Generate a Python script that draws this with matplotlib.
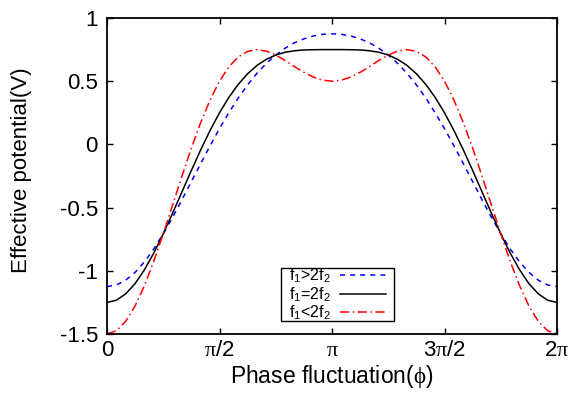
import numpy as np
import matplotlib
matplotlib.use("Agg")
import matplotlib.pyplot as plt
from matplotlib.patches import Rectangle

plt.rcParams['font.family'] = ['Liberation Sans', 'DejaVu Sans']
plt.rcParams['mathtext.fontset'] = 'custom'
plt.rcParams['mathtext.rm'] = 'Liberation Sans'
plt.rcParams['mathtext.it'] = 'Liberation Serif'

# Datos (0 .. pi, paso pi/24), la curva es simetrica en pi
blue_half = [-1.125, -1.112, -1.074, -1.012, -0.929, -0.826, -0.707, -0.576,
             -0.438, -0.294, -0.151, -0.010, 0.125, 0.251, 0.367, 0.471,
             0.563, 0.641, 0.707, 0.761, 0.804, 0.835, 0.858, 0.871, 0.875]
black_half = [-1.250, -1.233, -1.182, -1.101, -0.991, -0.858, -0.707, -0.544,
              -0.375, -0.206, -0.042, 0.111, 0.250, 0.372, 0.475, 0.559,
              0.625, 0.673, 0.707, 0.729, 0.741, 0.747, 0.749, 0.750, 0.750]
red_half = [-1.500, -1.474, -1.399, -1.277, -1.116, -0.923, -0.707, -0.479,
            -0.250, -0.029, 0.174, 0.352, 0.500, 0.614, 0.692, 0.736,
            0.750, 0.738, 0.707, 0.664, 0.616, 0.570, 0.533, 0.508, 0.500]

blue = blue_half + blue_half[-2::-1]
black = black_half + black_half[-2::-1]
red = red_half + red_half[-2::-1]
phi = np.linspace(0, 2 * np.pi, len(blue))

labels = [r'f$_\mathrm{1}$>2f$_\mathrm{2}$', r'f$_\mathrm{1}$=2f$_\mathrm{2}$',
          r'f$_\mathrm{1}$<2f$_\mathrm{2}$']
xticks = [0, np.pi / 2, np.pi, 3 * np.pi / 2, 2 * np.pi]
xticklabels = ['0', r'$\pi$/2', r'$\pi$', r'3$\pi$/2', r'2$\pi$']
yticks = [1, 0.5, 0, -0.5, -1, -1.5]
yticklabels = ['1', '0.5', '0', '-0.5', '-1', '-1.5']

# Figura
fig = plt.figure(figsize=(5.71, 4.03), dpi=100)
ax = fig.add_axes([107 / 571, 1 - 334 / 403, 450 / 571, 316 / 403])

ax.plot(phi, blue, color='blue', lw=1.1, dashes=(3.3, 3.3), label=labels[0])
ax.plot(phi, black, color='black', lw=1.1, label=labels[1])
ax.plot(phi, red, color='red', lw=1.1, dashes=(6, 2.3, 1, 2.3), label=labels[2])

ax.set_xlim(0, 2 * np.pi)
ax.set_ylim(-1.5, 1)
ax.set_xticks(xticks)
ax.set_xticklabels(xticklabels)
ax.set_yticks(yticks)
ax.set_yticklabels(yticklabels)
ax.tick_params(direction='in', length=4, width=1, top=True, right=True,
               labelsize=16)
ax.tick_params(axis='x', pad=4)
ax.tick_params(axis='y', pad=6.5)
for s in ax.spines.values():
    s.set_linewidth(1.3)

ax.set_xlabel(r'Phase fluctuation($\phi$)', fontsize=16.5, va='center')
ax.set_ylabel('Effective potential(V)', fontsize=16, va='center')
ax.xaxis.set_label_coords(0.5, -0.133)
ax.yaxis.set_label_coords(-0.189, 0.519)

# Leyenda (caja dibujada aparte)
box = Rectangle((0.387, 0.040), 0.251, 0.170, transform=ax.transAxes,
                fill=True, facecolor='white', edgecolor='black', lw=1.0, zorder=4)
ax.add_patch(box)
leg = ax.legend(loc='center', bbox_to_anchor=(0.5125, 0.125),
                markerfirst=False, fontsize=11.5, frameon=False,
                handlelength=2.9, handletextpad=0.55, borderpad=0,
                labelspacing=0.0, borderaxespad=0)
leg.set_zorder(5)

fig.savefig('out.png', dpi=100)
